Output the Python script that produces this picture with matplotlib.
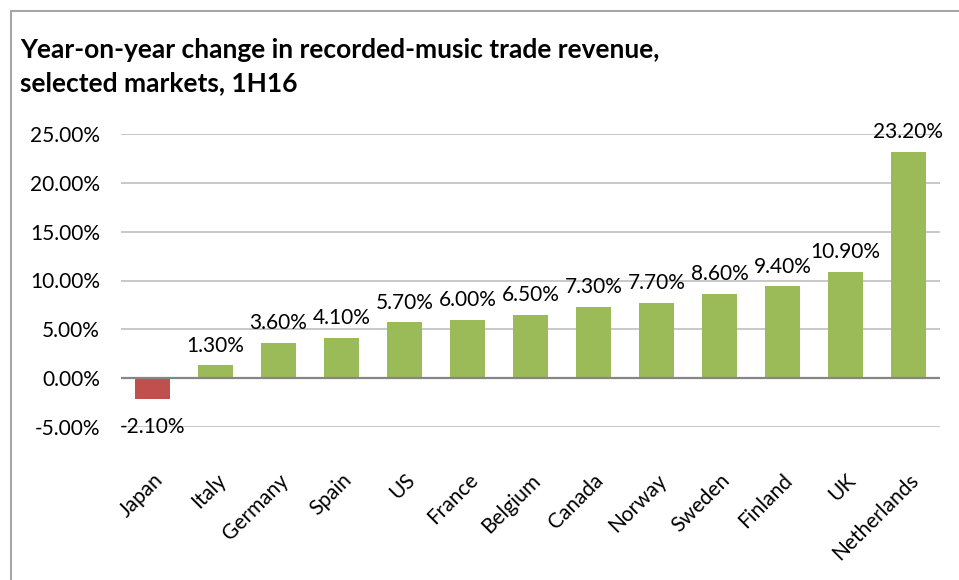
import matplotlib.pyplot as plt
from matplotlib.lines import Line2D
from matplotlib.ticker import FuncFormatter

# 数据
markets = ["Japan", "Italy", "Germany", "Spain", "US", "France", "Belgium",
           "Canada", "Norway", "Sweden", "Finland", "UK", "Netherlands"]
changes = [-2.1, 1.3, 3.6, 4.1, 5.7, 6.0, 6.5, 7.3, 7.7, 8.6, 9.4, 10.9, 23.2]
title = "Year-on-year change in recorded-music trade revenue,\nselected markets, 1H16"

plt.rcParams['font.family'] = ['Lato', 'DejaVu Sans']

fig = plt.figure(figsize=(9.59, 5.8), dpi=100)
ax = fig.add_axes([121 / 959, 153 / 580, (940 - 121) / 959, (427 - 134) / 580])

colors = ['#c0504d' if v < 0 else '#9bbb59' for v in changes]
x = range(len(markets))
ax.bar(x, changes, width=0.57, color=colors, zorder=2)

# 数据标签
for i, v in enumerate(changes):
    if v < 0:
        ax.text(i, -5.0, f"{v:.2f}%", ha='center', va='center', fontsize=15)
    else:
        ax.text(i, v + 1.0, f"{v:.2f}%", ha='center', va='bottom', fontsize=15)

ax.set_xlim(-0.5, len(markets) - 0.5)
ax.set_ylim(-5, 25)
ax.set_yticks(range(-5, 30, 5))
ax.yaxis.set_major_formatter(FuncFormatter(lambda v, p: f"{v:.2f}%"))
ax.grid(axis='y', color='#bfbfbf', linewidth=1.2, zorder=0)
ax.axhline(0, color='#868686', linewidth=1.6, zorder=3)
for s in ax.spines.values():
    s.set_visible(False)
ax.tick_params(axis='both', length=0, labelsize=15)
ax.tick_params(axis='y', pad=15)
ax.set_xticks(list(x))
ax.set_xticklabels(markets, rotation=45, ha='right', rotation_mode='anchor')
ax.tick_params(axis='x', pad=31)

fig.text(20 / 959, 1 - 67 / 580, title, fontsize=19, fontweight='bold',
         va='center', ha='left', linespacing=1.45)

# 外框
fig.add_artist(Line2D([11 / 959, 1], [1 - 11 / 580] * 2, color='#a6a6a6', linewidth=1.5))
fig.add_artist(Line2D([11 / 959] * 2, [0, 1 - 11 / 580], color='#a6a6a6', linewidth=1.5))

fig.savefig('out.png', dpi=100)
